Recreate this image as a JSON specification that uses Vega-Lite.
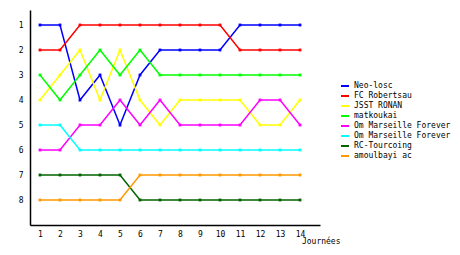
{
  "$schema": "https://vega.github.io/schema/vega-lite/v6.json",
  "width": 290,
  "height": 215,
  "autosize": "none",
  "padding": {"left": 30, "top": 10, "right": 140, "bottom": 30},
  "background": "white",
  "config": {"view": {"stroke": null}, "font": "DejaVu Sans Mono"},
  "data": {"values": [
    {"team": "Neo-losc", "j": 1, "r": 1}, {"team": "Neo-losc", "j": 2, "r": 1}, {"team": "Neo-losc", "j": 3, "r": 4}, {"team": "Neo-losc", "j": 4, "r": 3}, {"team": "Neo-losc", "j": 5, "r": 5}, {"team": "Neo-losc", "j": 6, "r": 3}, {"team": "Neo-losc", "j": 7, "r": 2}, {"team": "Neo-losc", "j": 8, "r": 2}, {"team": "Neo-losc", "j": 9, "r": 2}, {"team": "Neo-losc", "j": 10, "r": 2}, {"team": "Neo-losc", "j": 11, "r": 1}, {"team": "Neo-losc", "j": 12, "r": 1}, {"team": "Neo-losc", "j": 13, "r": 1}, {"team": "Neo-losc", "j": 14, "r": 1},
    {"team": "FC Robertsau", "j": 1, "r": 2}, {"team": "FC Robertsau", "j": 2, "r": 2}, {"team": "FC Robertsau", "j": 3, "r": 1}, {"team": "FC Robertsau", "j": 4, "r": 1}, {"team": "FC Robertsau", "j": 5, "r": 1}, {"team": "FC Robertsau", "j": 6, "r": 1}, {"team": "FC Robertsau", "j": 7, "r": 1}, {"team": "FC Robertsau", "j": 8, "r": 1}, {"team": "FC Robertsau", "j": 9, "r": 1}, {"team": "FC Robertsau", "j": 10, "r": 1}, {"team": "FC Robertsau", "j": 11, "r": 2}, {"team": "FC Robertsau", "j": 12, "r": 2}, {"team": "FC Robertsau", "j": 13, "r": 2}, {"team": "FC Robertsau", "j": 14, "r": 2},
    {"team": "JSST RONAN", "j": 1, "r": 4}, {"team": "JSST RONAN", "j": 2, "r": 3}, {"team": "JSST RONAN", "j": 3, "r": 2}, {"team": "JSST RONAN", "j": 4, "r": 4}, {"team": "JSST RONAN", "j": 5, "r": 2}, {"team": "JSST RONAN", "j": 6, "r": 4}, {"team": "JSST RONAN", "j": 7, "r": 5}, {"team": "JSST RONAN", "j": 8, "r": 4}, {"team": "JSST RONAN", "j": 9, "r": 4}, {"team": "JSST RONAN", "j": 10, "r": 4}, {"team": "JSST RONAN", "j": 11, "r": 4}, {"team": "JSST RONAN", "j": 12, "r": 5}, {"team": "JSST RONAN", "j": 13, "r": 5}, {"team": "JSST RONAN", "j": 14, "r": 4},
    {"team": "matkoukai", "j": 1, "r": 3}, {"team": "matkoukai", "j": 2, "r": 4}, {"team": "matkoukai", "j": 3, "r": 3}, {"team": "matkoukai", "j": 4, "r": 2}, {"team": "matkoukai", "j": 5, "r": 3}, {"team": "matkoukai", "j": 6, "r": 2}, {"team": "matkoukai", "j": 7, "r": 3}, {"team": "matkoukai", "j": 8, "r": 3}, {"team": "matkoukai", "j": 9, "r": 3}, {"team": "matkoukai", "j": 10, "r": 3}, {"team": "matkoukai", "j": 11, "r": 3}, {"team": "matkoukai", "j": 12, "r": 3}, {"team": "matkoukai", "j": 13, "r": 3}, {"team": "matkoukai", "j": 14, "r": 3},
    {"team": "Om Marseille Forever", "j": 1, "r": 6}, {"team": "Om Marseille Forever", "j": 2, "r": 6}, {"team": "Om Marseille Forever", "j": 3, "r": 5}, {"team": "Om Marseille Forever", "j": 4, "r": 5}, {"team": "Om Marseille Forever", "j": 5, "r": 4}, {"team": "Om Marseille Forever", "j": 6, "r": 5}, {"team": "Om Marseille Forever", "j": 7, "r": 4}, {"team": "Om Marseille Forever", "j": 8, "r": 5}, {"team": "Om Marseille Forever", "j": 9, "r": 5}, {"team": "Om Marseille Forever", "j": 10, "r": 5}, {"team": "Om Marseille Forever", "j": 11, "r": 5}, {"team": "Om Marseille Forever", "j": 12, "r": 4}, {"team": "Om Marseille Forever", "j": 13, "r": 4}, {"team": "Om Marseille Forever", "j": 14, "r": 5},
    {"team": "Om Marseille Forever ", "j": 1, "r": 5}, {"team": "Om Marseille Forever ", "j": 2, "r": 5}, {"team": "Om Marseille Forever ", "j": 3, "r": 6}, {"team": "Om Marseille Forever ", "j": 4, "r": 6}, {"team": "Om Marseille Forever ", "j": 5, "r": 6}, {"team": "Om Marseille Forever ", "j": 6, "r": 6}, {"team": "Om Marseille Forever ", "j": 7, "r": 6}, {"team": "Om Marseille Forever ", "j": 8, "r": 6}, {"team": "Om Marseille Forever ", "j": 9, "r": 6}, {"team": "Om Marseille Forever ", "j": 10, "r": 6}, {"team": "Om Marseille Forever ", "j": 11, "r": 6}, {"team": "Om Marseille Forever ", "j": 12, "r": 6}, {"team": "Om Marseille Forever ", "j": 13, "r": 6}, {"team": "Om Marseille Forever ", "j": 14, "r": 6},
    {"team": "RC-Tourcoing", "j": 1, "r": 7}, {"team": "RC-Tourcoing", "j": 2, "r": 7}, {"team": "RC-Tourcoing", "j": 3, "r": 7}, {"team": "RC-Tourcoing", "j": 4, "r": 7}, {"team": "RC-Tourcoing", "j": 5, "r": 7}, {"team": "RC-Tourcoing", "j": 6, "r": 8}, {"team": "RC-Tourcoing", "j": 7, "r": 8}, {"team": "RC-Tourcoing", "j": 8, "r": 8}, {"team": "RC-Tourcoing", "j": 9, "r": 8}, {"team": "RC-Tourcoing", "j": 10, "r": 8}, {"team": "RC-Tourcoing", "j": 11, "r": 8}, {"team": "RC-Tourcoing", "j": 12, "r": 8}, {"team": "RC-Tourcoing", "j": 13, "r": 8}, {"team": "RC-Tourcoing", "j": 14, "r": 8},
    {"team": "amoulbayi ac", "j": 1, "r": 8}, {"team": "amoulbayi ac", "j": 2, "r": 8}, {"team": "amoulbayi ac", "j": 3, "r": 8}, {"team": "amoulbayi ac", "j": 4, "r": 8}, {"team": "amoulbayi ac", "j": 5, "r": 8}, {"team": "amoulbayi ac", "j": 6, "r": 7}, {"team": "amoulbayi ac", "j": 7, "r": 7}, {"team": "amoulbayi ac", "j": 8, "r": 7}, {"team": "amoulbayi ac", "j": 9, "r": 7}, {"team": "amoulbayi ac", "j": 10, "r": 7}, {"team": "amoulbayi ac", "j": 11, "r": 7}, {"team": "amoulbayi ac", "j": 12, "r": 7}, {"team": "amoulbayi ac", "j": 13, "r": 7}, {"team": "amoulbayi ac", "j": 14, "r": 7}
  ]},
  "encoding": {
    "x": {"field": "j", "type": "quantitative",
      "scale": {"domain": [0.5, 15], "nice": false, "zero": false},
      "axis": {"values": [1,2,3,4,5,6,7,8,9,10,11,12,13,14], "grid": false, "ticks": false, "domainColor": "black", "domainWidth": 1.5, "labelFont": "DejaVu Sans Mono", "labelFontSize": 8, "labelColor": "black", "labelPadding": 5, "title": "Journées", "titleFont": "DejaVu Sans Mono", "titleFontSize": 8, "titleFontWeight": "normal", "titleColor": "black", "titleX": 310, "titleY": 16, "titleAlign": "right", "titleBaseline": "middle", "labelFlush": false}},
    "y": {"field": "r", "type": "quantitative",
      "scale": {"domain": [0.4, 9], "nice": false, "zero": false, "reverse": true},
      "axis": {"values": [1,2,3,4,5,6,7,8], "grid": false, "ticks": false, "domainColor": "black", "domainWidth": 1.5, "labelFont": "DejaVu Sans Mono", "labelFontSize": 8, "labelColor": "black", "labelPadding": 7, "title": null}},
    "color": {"field": "team", "type": "nominal",
      "scale": {"domain": ["Neo-losc", "FC Robertsau", "JSST RONAN", "matkoukai", "Om Marseille Forever", "Om Marseille Forever ", "RC-Tourcoing", "amoulbayi ac"],
        "range": ["#0000ff", "#ff0000", "#ffff00", "#00ff00", "#ff00ff", "#00ffff", "#006400", "#ff9900"]},
      "legend": {"title": null, "orient": "none", "legendX": 310, "legendY": 71, "symbolType": "stroke", "symbolStrokeWidth": 2, "symbolSize": 64, "rowPadding": 1, "labelFont": "DejaVu Sans Mono", "labelFontSize": 8, "labelColor": "black", "labelLimit": 200, "labelOffset": 4}}
  },
  "layer": [
    {"mark": {"type": "line", "strokeWidth": 1.5, "interpolate": "linear"}},
    {"mark": {"type": "point", "shape": "square", "filled": true, "size": 8, "opacity": 1}}
  ]
}
